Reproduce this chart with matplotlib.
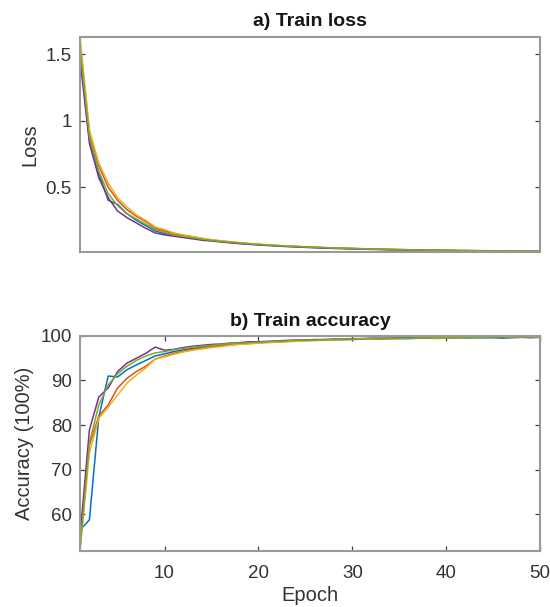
import matplotlib
matplotlib.use("Agg")
import matplotlib.pyplot as plt

plt.rcParams['font.family'] = ['Liberation Sans', 'DejaVu Sans']

epochs = list(range(1, 51))

loss_blue = [1.50, 0.86, 0.60, 0.40, 0.37, 0.30, 0.25, 0.21, 0.17, 0.15, 0.14, 0.125, 0.115, 0.105, 0.098,
             0.090, 0.084, 0.078, 0.072, 0.067, 0.063, 0.059, 0.055, 0.052, 0.049, 0.046, 0.043, 0.041,
             0.039, 0.037, 0.035, 0.033, 0.031, 0.030, 0.029, 0.027, 0.026, 0.025, 0.024, 0.023, 0.022,
             0.021, 0.021, 0.020, 0.019, 0.018, 0.018, 0.017, 0.017, 0.016]
loss_orange = [1.58, 0.91, 0.66, 0.50, 0.40, 0.33, 0.28, 0.24, 0.19, 0.17, 0.15, 0.135, 0.125, 0.112, 0.102,
               0.094, 0.087, 0.080, 0.074, 0.069, 0.064, 0.060, 0.056, 0.053, 0.050, 0.047, 0.044, 0.042,
               0.040, 0.038, 0.036, 0.034, 0.032, 0.031, 0.029, 0.028, 0.027, 0.026, 0.025, 0.024, 0.023,
               0.022, 0.021, 0.021, 0.020, 0.019, 0.019, 0.018, 0.017, 0.017]
loss_yellow = [1.63, 0.93, 0.68, 0.53, 0.42, 0.35, 0.29, 0.25, 0.20, 0.18, 0.155, 0.14, 0.128, 0.115, 0.104,
               0.096, 0.088, 0.081, 0.075, 0.070, 0.065, 0.061, 0.057, 0.054, 0.050, 0.047, 0.045, 0.042,
               0.040, 0.038, 0.036, 0.034, 0.033, 0.031, 0.030, 0.029, 0.027, 0.026, 0.025, 0.024, 0.023,
               0.023, 0.022, 0.021, 0.020, 0.020, 0.019, 0.018, 0.018, 0.017]
loss_purple = [1.46, 0.83, 0.57, 0.42, 0.32, 0.27, 0.23, 0.19, 0.155, 0.14, 0.13, 0.12, 0.11, 0.10, 0.094,
               0.087, 0.080, 0.074, 0.069, 0.064, 0.060, 0.056, 0.052, 0.049, 0.046, 0.043, 0.041, 0.038,
               0.036, 0.034, 0.033, 0.031, 0.030, 0.028, 0.027, 0.026, 0.025, 0.024, 0.023, 0.022, 0.021,
               0.020, 0.019, 0.019, 0.018, 0.017, 0.017, 0.016, 0.015, 0.015]
loss_green = [1.55, 0.88, 0.62, 0.45, 0.36, 0.30, 0.26, 0.22, 0.18, 0.16, 0.14, 0.128, 0.118, 0.108, 0.099,
              0.091, 0.085, 0.079, 0.073, 0.068, 0.063, 0.059, 0.055, 0.052, 0.049, 0.046, 0.044, 0.041,
              0.039, 0.037, 0.035, 0.033, 0.032, 0.030, 0.029, 0.028, 0.026, 0.025, 0.024, 0.023, 0.022,
              0.022, 0.021, 0.020, 0.019, 0.019, 0.018, 0.017, 0.017, 0.016]

acc_blue = [56.4, 58.7, 81.8, 91.0, 90.8, 92.4, 93.5, 94.5, 95.5, 96.0, 96.5, 96.9, 97.2, 97.5, 97.7, 97.9,
            98.1, 98.2, 98.4, 98.5, 98.6, 98.7, 98.8, 98.9, 99.0, 99.0, 99.1, 99.1, 99.2, 99.2, 99.3, 99.3,
            99.3, 99.4, 99.4, 99.4, 99.5, 99.5, 99.5, 99.5, 99.6, 99.5, 99.6, 99.6, 99.6, 99.5, 99.6, 99.7,
            99.6, 99.7]
acc_orange = [52.5, 75.5, 82.0, 84.5, 88.3, 90.5, 92.0, 93.2, 94.8, 95.5, 96.1, 96.6, 97.0, 97.3, 97.6, 97.8,
              98.0, 98.2, 98.3, 98.5, 98.6, 98.7, 98.8, 98.9, 99.0, 99.1, 99.1, 99.2, 99.2, 99.3, 99.3, 99.4,
              99.4, 99.4, 99.5, 99.5, 99.5, 99.6, 99.6, 99.6, 99.6, 99.7, 99.7, 99.7, 99.7, 99.7, 99.8, 99.8,
              99.8, 99.8]
acc_yellow = [51.8, 73.7, 81.5, 84.0, 86.7, 89.4, 91.2, 92.8, 94.8, 95.3, 95.9, 96.4, 96.8, 97.1, 97.4, 97.6,
              97.9, 98.1, 98.2, 98.4, 98.5, 98.6, 98.7, 98.8, 98.9, 99.0, 99.0, 99.1, 99.2, 99.2, 99.3, 99.3,
              99.4, 99.4, 99.4, 99.5, 99.5, 99.5, 99.4, 99.6, 99.6, 99.6, 99.7, 99.7, 99.7, 99.7, 99.7, 99.8,
              99.8, 99.8]
acc_purple = [55.0, 78.9, 86.3, 88.3, 92.0, 93.9, 95.0, 96.1, 97.5, 96.8, 97.0, 97.4, 97.7, 97.9, 98.1, 98.2,
              98.4, 98.5, 98.7, 98.7, 98.8, 98.9, 99.0, 99.1, 99.1, 99.2, 99.2, 99.3, 99.3, 99.4, 99.4, 99.5,
              99.5, 99.5, 99.6, 99.6, 99.6, 99.6, 99.7, 99.7, 99.7, 99.8, 99.8, 99.8, 99.8, 99.8, 99.9, 99.8,
              99.9, 99.9]
acc_green = [52.0, 76.0, 84.5, 89.0, 91.5, 93.2, 94.5, 95.5, 96.2, 96.5, 96.9, 97.2, 97.5, 97.7, 97.9, 98.1,
             98.3, 98.4, 98.5, 98.6, 98.7, 98.8, 98.9, 99.0, 99.1, 99.1, 99.2, 99.2, 99.3, 99.3, 99.4, 99.4,
             99.4, 99.5, 99.5, 99.5, 99.6, 99.6, 99.6, 99.6, 99.7, 99.7, 99.7, 99.7, 99.8, 99.8, 99.8, 99.8,
             99.8, 99.9]

run_colors = ['#0072BD', '#D95319', '#EDB120', '#7E2F8E', '#77AC30']
loss_runs = [loss_blue, loss_orange, loss_yellow, loss_purple, loss_green]
acc_runs = [acc_blue, acc_orange, acc_yellow, acc_purple, acc_green]

loss_yticks = [0.5, 1, 1.5]
loss_yticklabels = ['0.5', '1', '1.5']
acc_yticks = [60, 70, 80, 90, 100]
acc_xticks = [10, 20, 30, 40, 50]

text_color = '#333333'
spine_color = '#999999'

fig = plt.figure(figsize=(5.5, 6.07), dpi=100)
ax1 = fig.add_axes([0.1455, 0.5848, 0.8364, 0.3542])
ax2 = fig.add_axes([0.1455, 0.0923, 0.8364, 0.3542])


def style_axes(ax):
    for s in ax.spines.values():
        s.set_color(spine_color)
        s.set_linewidth(1.5)
    ax.tick_params(direction='in', length=3.5, width=0.9, color='#404040',
                   labelsize=13.5, labelcolor=text_color,
                   top=True, right=True)
    ax.tick_params(axis='y', pad=6)
    ax.tick_params(axis='x', pad=10)


for run, c in zip(loss_runs, run_colors):
    ax1.plot(epochs, run, color=c, lw=1.1)
ax1.set_xlim(1, 50)
ax1.set_ylim(0.011, 1.63)
ax1.set_yticks(loss_yticks)
ax1.set_yticklabels(loss_yticklabels)
ax1.set_xticks([])
style_axes(ax1)
ax1.set_ylabel('Loss', fontsize=14.5, color=text_color)
ax1.yaxis.set_label_coords(-0.088, 0.5)
ax1.set_title('a) Train loss', fontsize=14, fontweight='bold', color='#151515', pad=8)

for run, c in zip(acc_runs, run_colors):
    ax2.plot(epochs, run, color=c, lw=1.1)
ax2.set_xlim(1, 50)
ax2.set_ylim(51.7, 100)
ax2.set_yticks(acc_yticks)
ax2.set_xticks(acc_xticks)
style_axes(ax2)
ax2.set_ylabel('Accuracy (100%)', fontsize=14.5, color=text_color)
ax2.yaxis.set_label_coords(-0.100, 0.5)
ax2.set_xlabel('Epoch', fontsize=14.5, color=text_color)
ax2.xaxis.set_label_coords(0.5, -0.163)
ax2.set_title('b) Train accuracy', fontsize=14, fontweight='bold', color='#151515', pad=7.5)

fig.savefig('out.png', dpi=100, facecolor='white')
